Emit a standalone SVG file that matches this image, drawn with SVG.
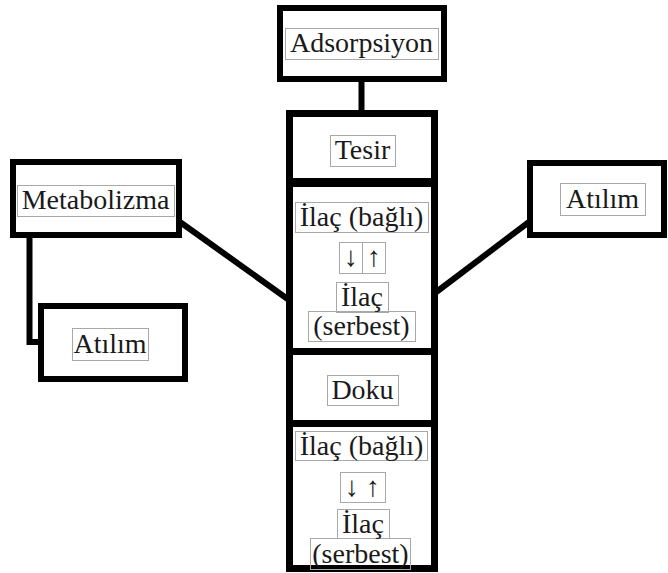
<svg xmlns="http://www.w3.org/2000/svg" width="668" height="573" viewBox="0 0 668 573">
<style>
text{font-family:"Liberation Serif","Times New Roman",serif !important;font-size:28px;fill:#1a1a1a;text-anchor:middle}
.box{fill:#fff;stroke:#000;stroke-width:6}
.tb{fill:none;stroke:#a8a8a8;stroke-width:1}
.c{fill:none;stroke:#000;stroke-width:6}
</style>
<rect width="668" height="573" fill="#fff"/>
<g id="connectors">
<line class="c" x1="361.5" y1="80" x2="361.5" y2="112"/>
<line class="c" x1="180" y1="222" x2="289" y2="300"/>
<line class="c" x1="435" y1="293" x2="529" y2="222"/>
<path class="c" d="M29.5,236 V342 H41"/>
</g>
<g id="adsorpsiyon">
<rect class="box" x="280" y="8" width="164" height="71"/>
<rect class="tb" x="285.5" y="28.5" width="153" height="31"/>
<text x="361.5" y="52">Adsorpsiyon</text>
</g>
<g id="metabolizma">
<rect class="box" x="13" y="162" width="166" height="73"/>
<rect class="tb" x="17.5" y="185.5" width="157" height="31"/>
<text x="95.5" y="209">Metabolizma</text>
</g>
<g id="atilim-left">
<rect class="box" x="41" y="306" width="144" height="73"/>
<rect class="tb" x="72.5" y="328.5" width="76" height="32"/>
<text x="110" y="353">Atılım</text>
</g>
<g id="atilim-right">
<rect class="box" x="530" y="163" width="134" height="72"/>
<rect class="tb" x="560.5" y="183.5" width="85" height="32"/>
<text x="602.5" y="208">Atılım</text>
</g>
<g id="column">
<rect x="289.5" y="113.5" width="145" height="455" fill="#fff" stroke="#000" stroke-width="7"/>
<rect x="286" y="178" width="152" height="9" fill="#000"/>
<rect x="286" y="348" width="152" height="7" fill="#000"/>
<rect x="286" y="420" width="152" height="7" fill="#000"/>
</g>
<g id="tesir">
<rect class="tb" x="330.5" y="135.5" width="65" height="31"/>
<text x="362.5" y="159">Tesir</text>
</g>
<g id="ilac-tesir">
<rect class="tb" x="295.5" y="202.5" width="133" height="30"/>
<rect class="tb" x="339.5" y="242.5" width="23" height="31"/>
<rect class="tb" x="362.5" y="242.5" width="23" height="31"/>
<rect class="tb" x="336.5" y="282.5" width="52" height="30"/>
<rect class="tb" x="308.5" y="311.5" width="107" height="30"/>
<text x="361.5" y="226">İlaç (bağlı)</text>
<text x="351" y="266">↓</text>
<text x="374" y="266">↑</text>
<text x="362" y="306">İlaç</text>
<text x="361.5" y="335">(serbest)</text>
</g>
<g id="doku">
<rect class="tb" x="327.5" y="375.5" width="71" height="30"/>
<text x="362.5" y="399">Doku</text>
</g>
<g id="ilac-doku">
<rect class="tb" x="295.5" y="431.5" width="132" height="29"/>
<rect class="tb" x="340.5" y="472.5" width="45" height="30"/>
<rect class="tb" x="337.5" y="509.5" width="52" height="29"/>
<rect class="tb" x="310.5" y="538.5" width="100" height="31"/>
<text x="361.5" y="455">İlaç (bağlı)</text>
<text x="352" y="496">↓</text>
<text x="373" y="496">↑</text>
<text x="363" y="533">İlaç</text>
<text x="360.5" y="563">(serbest)</text>
</g>
</svg>
